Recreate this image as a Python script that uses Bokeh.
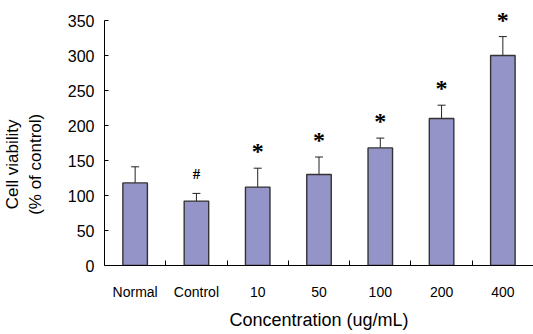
from bokeh.plotting import figure
from bokeh.models import (ColumnDataSource, FixedTicker, Range1d, Whisker, TeeHead,
                          LabelSet)
from bokeh.embed import file_html
from bokeh.resources import INLINE

categories = ["Normal", "Control", "10", "50", "100", "200", "400"]
viability = [118, 92, 112, 130, 168, 210, 300]
errors = [23, 11, 27, 25, 14, 19, 27]
marks = ["", "#", "*", "*", "*", "*", "*"]
y_ticks = [0, 50, 100, 150, 200, 250, 300, 350]

mark_style = {"": ("14px", 0), "#": ("15px", 14), "*": ("24px", 9)}

xs = [i + 0.5 for i in range(len(categories))]
bounds = [i for i in range(1, len(categories))]
upper = [v + e for v, e in zip(viability, errors)]

src = ColumnDataSource(dict(
    x=xs, top=viability, upper=upper, mark=marks,
    msize=[mark_style[m][0] for m in marks],
    moff=[mark_style[m][1] for m in marks],
))

FONT = "Liberation Sans"
NB = "\u00a0" * 12

p = figure(width=533, height=334, output_backend="svg", toolbar_location=None,
           x_range=Range1d(0, len(categories)), y_range=Range1d(0, 370),
           min_border_left=98, min_border_top=6, min_border_bottom=69,
           min_border_right=0)
p.outline_line_color = None
p.xgrid.visible = False
p.ygrid.visible = False
p.background_fill_color = "white"
p.border_fill_color = "white"

p.vbar(x="x", top="top", bottom=0, width=0.4, source=src,
       fill_color="#9494C8", line_color="#333333", line_width=1.4)

w = Whisker(base="x", lower="top", upper="upper", source=src,
            line_color="#222222", line_width=1,
            upper_head=TeeHead(size=8, line_color="#222222", line_width=1),
            lower_head=None)
p.add_layout(w)

lbl = LabelSet(x="x", y="upper", text="mark", source=src, y_offset="moff",
               text_align="center", text_baseline="alphabetic",
               text_font=FONT, text_font_size="msize", text_font_style="bold",
               text_color="black")
p.add_layout(lbl)

# x axis
xa = p.xaxis[0]
xa.ticker = FixedTicker(ticks=xs, minor_ticks=bounds)
xa.major_label_overrides = {x: c for x, c in zip(xs, categories)}
xa.major_tick_in = 0
xa.major_tick_out = 0
xa.minor_tick_in = 5
xa.minor_tick_out = 0
xa.minor_tick_line_color = "black"
xa.axis_line_color = "black"
xa.major_label_standoff = 18
xa.major_label_text_font = FONT
xa.major_label_text_font_size = "14px"
xa.major_label_text_color = "black"
xa.axis_label = "Concentration (ug/mL)"
xa.axis_label_text_font = FONT
xa.axis_label_text_font_size = "18px"
xa.axis_label_text_font_style = "normal"
xa.axis_label_text_color = "black"
xa.axis_label_standoff = 7

# y axis
ya = p.yaxis[0]
ya.ticker = FixedTicker(ticks=y_ticks)
ya.bounds = (0, 350)
ya.minor_tick_line_color = None
ya.major_tick_in = 4
ya.major_tick_out = 0
ya.major_tick_line_color = "black"
ya.axis_line_color = "black"
ya.major_label_standoff = 10
ya.major_label_text_font = FONT
ya.major_label_text_font_size = "16px"
ya.major_label_text_color = "black"
ya.axis_label = "Cell viability" + NB + "\n(% of control)" + NB
ya.axis_label_text_font = FONT
ya.axis_label_text_font_size = "17px"
ya.axis_label_text_font_style = "normal"
ya.axis_label_text_color = "black"
ya.axis_label_standoff = 20

open("out.html", "w").write(file_html(p, INLINE))
